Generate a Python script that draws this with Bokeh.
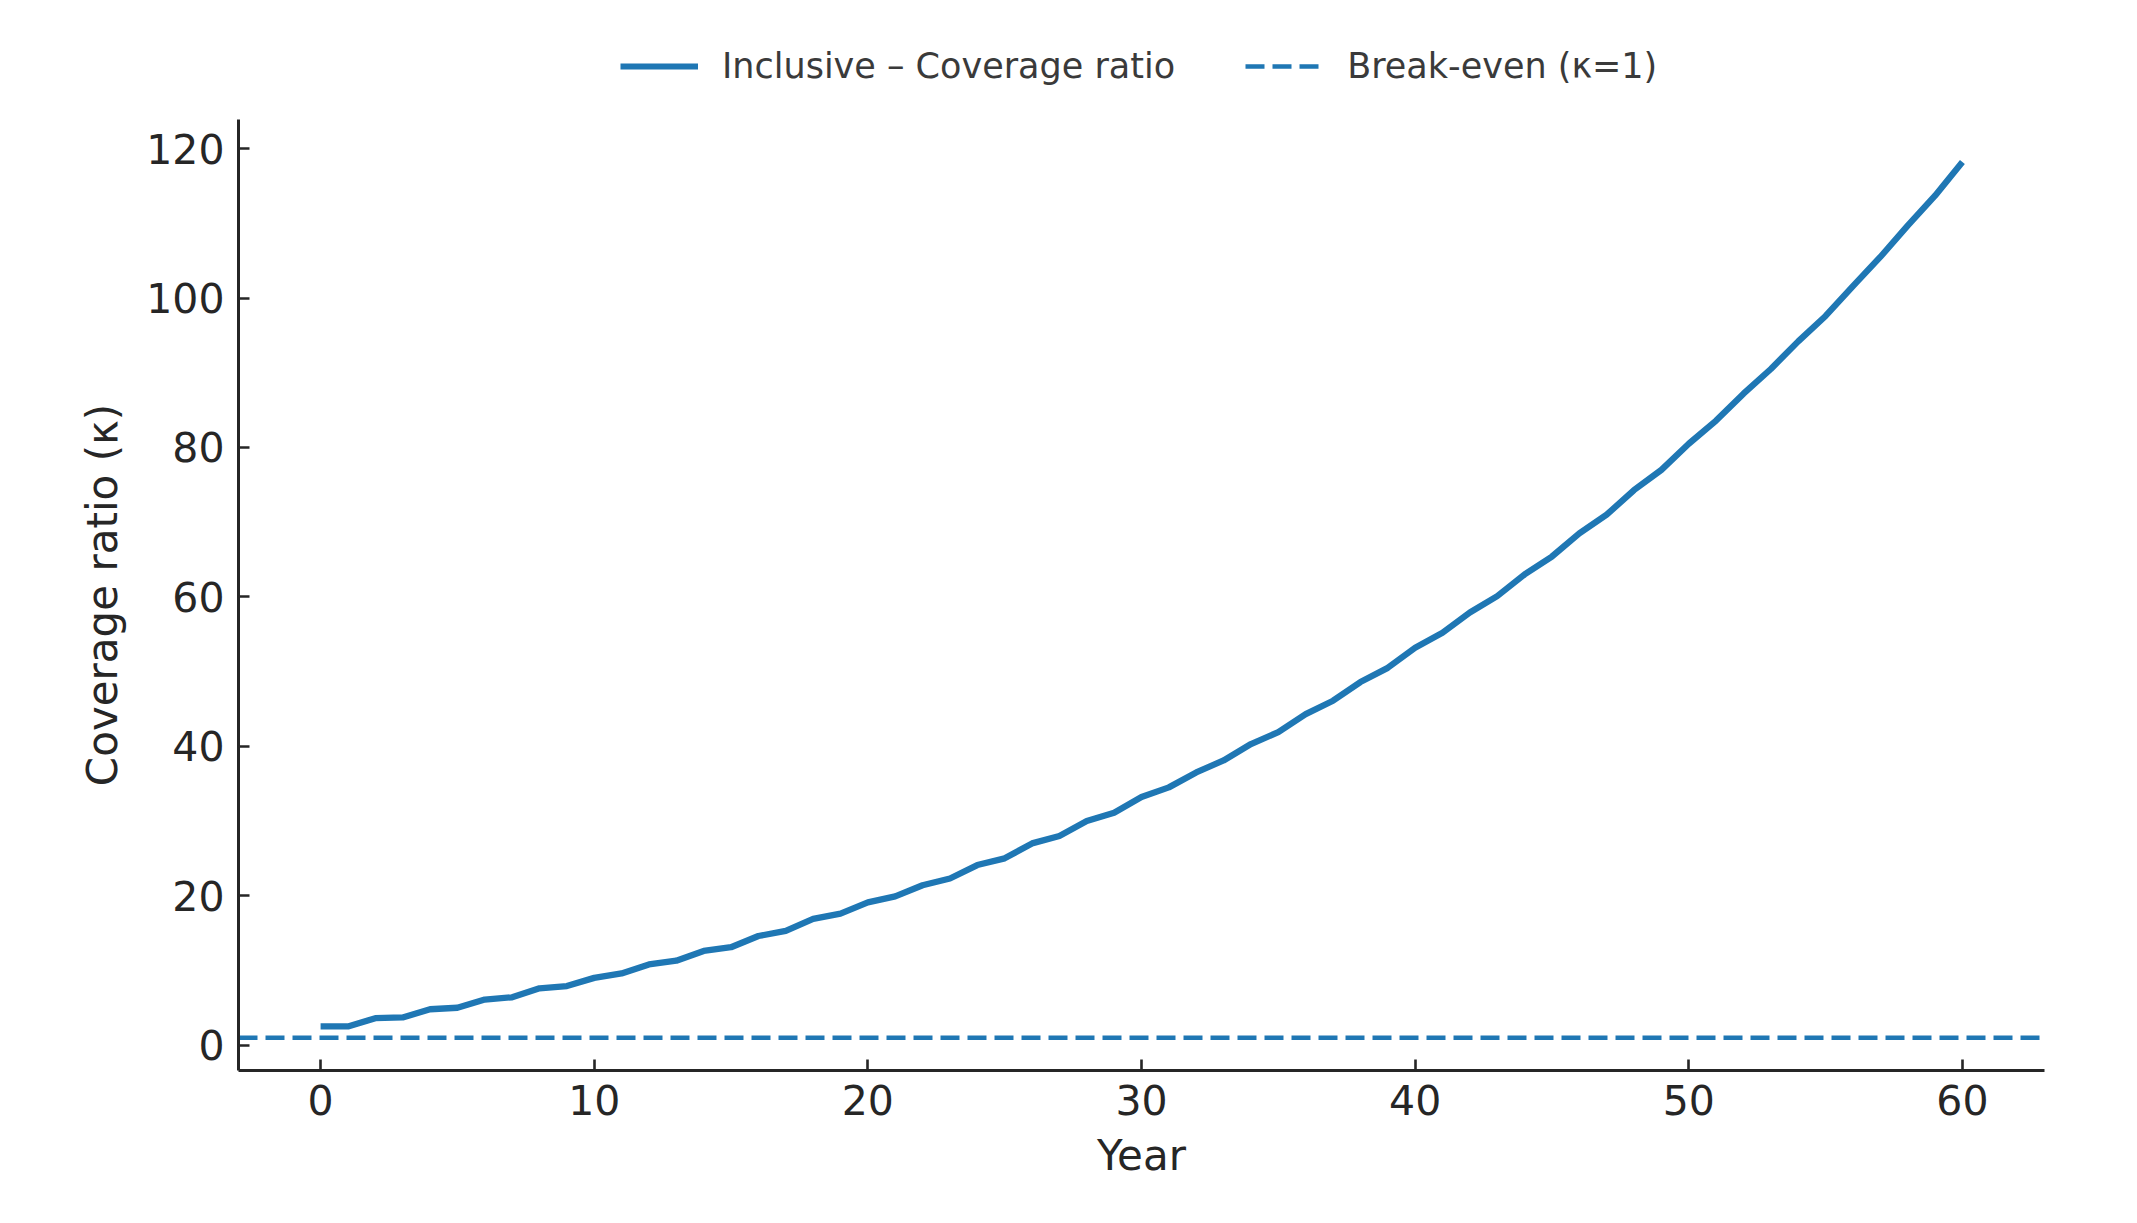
from bokeh.plotting import figure
from bokeh.layouts import column
from bokeh.models import ColumnDataSource, Legend, LegendItem, FixedTicker, Range1d
from bokeh.embed import file_html
from bokeh.resources import INLINE

years = list(range(0, 61))
coverage = [2.5, 2.5, 3.6, 3.7, 4.8, 5.0, 6.1, 6.4, 7.6, 7.9,
            9.0, 9.6, 10.8, 11.3, 12.6, 13.1, 14.6, 15.3, 16.9, 17.6,
            19.1, 19.9, 21.4, 22.3, 24.1, 25.0, 27.0, 28.0, 30.0, 31.1,
            33.2, 34.5, 36.5, 38.1, 40.3, 41.9, 44.3, 46.1, 48.6, 50.5,
            53.2, 55.2, 57.9, 60.1, 63.0, 65.4, 68.5, 71.0, 74.3, 77.0,
            80.5, 83.6, 87.2, 90.5, 94.2, 97.6, 101.6, 105.5, 109.7, 113.7,
            118.2]
break_even = 1.0
x_ticks = [0, 10, 20, 30, 40, 50, 60]
y_ticks = [0, 20, 40, 60, 80, 100, 120]
series_label = "Inclusive \u2013 Coverage ratio"
break_label = "Break-even (\u03ba=1)"

FONT = "DejaVu Sans"
TXT = "#262626"
BLUE = "#1f77b4"
W = 2128

# ---- legend strip (top); proxy lines sit outside its visible range ----
leg = figure(width=W, height=119, output_backend="svg", toolbar_location=None,
             x_range=Range1d(0, 1), y_range=Range1d(0, 1), min_border=0)
leg.axis.visible = False
leg.grid.visible = False
leg.outline_line_color = None
leg.border_fill_color = "white"
proxy = ColumnDataSource(dict(x=[-10, -9], y=[-10, -10]))
l1 = leg.line("x", "y", source=proxy, line_color=BLUE, line_width=6)
l2 = leg.line("x", "y", source=proxy, line_color=BLUE, line_width=4.5, line_dash="19 8")
legend = Legend(items=[LegendItem(label=series_label, renderers=[l1]),
                       LegendItem(label=break_label, renderers=[l2])],
                orientation="horizontal", location=(382, 33),
                border_line_color=None, background_fill_alpha=0,
                padding=0, margin=0, spacing=70,
                glyph_width=78, glyph_height=40, label_standoff=24,
                label_text_font=FONT, label_text_font_size="35px",
                label_text_color="#3a3a3a")
leg.add_layout(legend, "center")

# ---- main chart ----
p = figure(width=W, height=1089, output_backend="svg", toolbar_location=None,
           x_range=Range1d(-3, 63), y_range=Range1d(-3.4, 123.9),
           min_border_left=238, min_border_right=84, min_border_top=0, min_border_bottom=138)
p.outline_line_color = None
p.xgrid.visible = False
p.ygrid.visible = False
p.background_fill_color = "white"
p.border_fill_color = "white"

src = ColumnDataSource(dict(year=years, cov=coverage))
p.line("year", "cov", source=src, line_color=BLUE, line_width=6.3)

be_src = ColumnDataSource(dict(x=[-3, 63], y=[break_even, break_even]))
p.line("x", "y", source=be_src, line_color=BLUE, line_width=4.5, line_dash="19 8")

for ax in (p.xaxis[0], p.yaxis[0]):
    ax.axis_line_color = TXT
    ax.axis_line_width = 3
    ax.major_tick_line_color = TXT
    ax.major_tick_line_width = 2.6
    ax.major_tick_in = 11
    ax.major_tick_out = 0
    ax.minor_tick_line_color = None
    ax.major_label_text_font = FONT
    ax.major_label_text_font_size = "41px"
    ax.major_label_text_color = TXT
    ax.major_label_standoff = 14
    ax.axis_label_text_font = FONT
    ax.axis_label_text_font_size = "42px"
    ax.axis_label_text_color = TXT
    ax.axis_label_text_font_style = "normal"

p.xaxis.ticker = FixedTicker(ticks=x_ticks)
p.yaxis.ticker = FixedTicker(ticks=y_ticks)
p.xaxis.axis_label = "Year"
p.yaxis.axis_label = "Coverage ratio (\u03ba)"
p.xaxis.axis_label_standoff = 13
p.yaxis.axis_label_standoff = 16

layout = column(leg, p, spacing=0)
open("out.html", "w").write(file_html(layout, INLINE))
